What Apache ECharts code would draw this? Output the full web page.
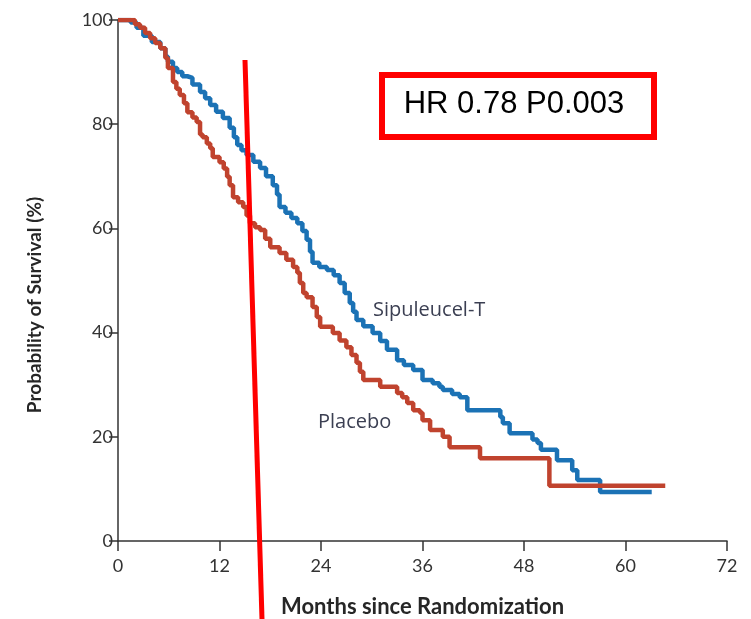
<!DOCTYPE html>
<html>
<head>
<meta charset="utf-8">
<script src="https://cdn.jsdelivr.net/npm/echarts@6/dist/echarts.min.js"></script>
<style>
  html, body { margin: 0; padding: 0; background: #fff; }
  #chart { width: 751px; height: 619px; }
</style>
</head>
<body>
<div id="chart"></div>
<script>
// Kaplan-Meier overall survival, months since randomization vs. survival (%)
const monthTicks = [0, 12, 24, 36, 48, 60, 72];
const survivalTicks = [0, 20, 40, 60, 80, 100];

// Sipuleucel-T arm: [month of event, survival % after the event]
const sipuleucelT = [
  [0, 100], [1.5, 99.5], [2.2, 98.5], [3, 97], [4, 95.8], [5, 94.6], [5.6, 93],
  [5.9, 92], [6.5, 90.8], [7, 90], [7.6, 89.2], [8.2, 88.9], [8.8, 87.6],
  [9.7, 86.2], [10.3, 85], [10.9, 83.7], [11.6, 82.4], [12.4, 81.2], [13.2, 79.3],
  [13.7, 77.5], [14.1, 76], [14.6, 75], [15.2, 74.1], [16, 72.8], [16.8, 71.6],
  [17.5, 70], [18.3, 68.3], [18.8, 66.5], [19.1, 64.1], [19.8, 63], [20.5, 62],
  [21.2, 61], [21.8, 59.5], [22.3, 57.8], [22.7, 55.5], [23, 53.4], [23.8, 52.6],
  [24.7, 52], [25.5, 51], [26.2, 49.5], [26.8, 47.6], [27.4, 45.7], [27.8, 44],
  [28.2, 42.4], [29, 41.2], [30.1, 39.9], [31, 38.4], [31.8, 36.7], [33, 34.7],
  [33.8, 33.8], [34.9, 32.8], [36, 30.9], [37.2, 30.3], [38, 29.6], [38.4, 29],
  [39.5, 28.2], [40.4, 27.6], [41.3, 25.1], [45.2, 23.8], [45.5, 22.6],
  [46.3, 20.7], [49, 19.5], [49.6, 18.8], [50, 17.5], [51.9, 15.5], [53.7, 13.6],
  [54.3, 11.7], [57, 9.4], [63.1, 9.4]
];

// Placebo arm: [month of event, survival % after the event]
const placebo = [
  [0, 100], [1.5, 100], [2, 99.2], [2.6, 98.5], [3.2, 97.5], [3.8, 96.5],
  [4.4, 95.6], [5, 94.6], [5.6, 92.7], [5.9, 90.8], [6.5, 88.1], [6.9, 86.8],
  [7.3, 85.6], [7.8, 84], [8.2, 82.3], [8.8, 81.3], [9.3, 80.4], [9.7, 78],
  [10, 77.5], [10.5, 76.3], [10.9, 75.4], [11.2, 73.7], [12, 72.7], [12.5, 71.5],
  [12.9, 69.9], [13.2, 68.3], [13.6, 66], [14.2, 65], [14.8, 64.1], [15.2, 62.5],
  [15.6, 61], [16.2, 60.2], [16.8, 59.7], [17.4, 58], [18, 56.4], [19.1, 55.3],
  [19.9, 54], [20.7, 52.6], [21.2, 51.5], [21.5, 49.5], [21.9, 47.6], [22.3, 46.8],
  [23, 44.9], [23.5, 43], [23.9, 41.1], [25.4, 39.9], [26.2, 38.5], [27, 37.2],
  [27.6, 35.7], [28.2, 34.2], [28.6, 32.5], [29, 30.9], [31, 29.6], [33, 28.4],
  [33.6, 27.6], [34.2, 26.5], [34.9, 25.1], [35.7, 24.6], [36, 23.2], [36.9, 21.3],
  [38.4, 20], [39.2, 18], [42.8, 15.9], [51, 10.6], [64.7, 10.6]
];

const seriesNames = ['Sipuleucel-T', 'Placebo'];
const xAxisTitle = 'Months since Randomization';
const yAxisTitle = 'Probability of Survival (%)';
const hrText = 'HR 0.78 P0.003';

const labelFont = "Lato, 'Open Sans', sans-serif";
const axisColor = '#333333';

const chart = echarts.init(document.getElementById('chart'), null, { renderer: 'canvas' });

chart.setOption({
  animation: false,
  backgroundColor: '#ffffff',
  grid: { left: 118, right: 24, top: 20, bottom: 78, containLabel: false, outerBoundsMode: 'none' },
  xAxis: {
    type: 'value',
    min: monthTicks[0],
    max: monthTicks[monthTicks.length - 1],
    interval: 12,
    name: xAxisTitle,
    nameLocation: 'middle',
    nameGap: 55,
    nameTextStyle: { fontFamily: labelFont, fontWeight: 'bold', fontSize: 22, color: '#262626' },
    axisLine: { lineStyle: { color: axisColor, width: 1.5 } },
    axisTick: { length: 10, lineStyle: { color: axisColor, width: 1.5 } },
    axisLabel: { fontFamily: labelFont, fontSize: 18, color: '#333', margin: 16 },
    splitLine: { show: false }
  },
  yAxis: {
    type: 'value',
    min: survivalTicks[0],
    max: survivalTicks[survivalTicks.length - 1],
    interval: 20,
    axisLine: { show: true, lineStyle: { color: axisColor, width: 1.5 } },
    axisTick: { show: true, length: 9, lineStyle: { color: axisColor, width: 1.5 } },
    axisLabel: { fontFamily: labelFont, fontSize: 18, color: '#333', margin: 5 },
    splitLine: { show: false }
  },
  series: [
    {
      name: seriesNames[0],
      type: 'line',
      step: 'end',
      data: sipuleucelT,
      showSymbol: false,
      lineStyle: { color: '#1b72b5', width: 4.5 },
      z: 3
    },
    {
      name: seriesNames[1],
      type: 'line',
      step: 'end',
      data: placebo,
      showSymbol: false,
      lineStyle: { color: '#c0432e', width: 4.5 },
      z: 4
    }
  ],
  graphic: [
    {
      type: 'text', x: 35, y: 305, rotation: Math.PI / 2,
      style: {
        text: yAxisTitle, fontFamily: labelFont, fontWeight: 'bold', fontSize: 19,
        fill: '#262626', align: 'center', verticalAlign: 'middle'
      }
    },
    {
      type: 'text', x: 373, y: 310,
      style: {
        text: seriesNames[0], fontFamily: "'Open Sans', sans-serif", fontSize: 20,
        fill: '#3b3f52', verticalAlign: 'middle'
      }
    },
    {
      type: 'text', x: 318, y: 422,
      style: {
        text: seriesNames[1], fontFamily: "'Open Sans', sans-serif", fontSize: 20,
        fill: '#3b3f52', verticalAlign: 'middle'
      }
    },
    {
      type: 'rect',
      shape: { x: 382, y: 75, width: 272, height: 62 },
      style: { fill: '#ffffff', stroke: '#ff0000', lineWidth: 6 },
      z: 10
    },
    {
      type: 'text', x: 514, y: 104,
      style: {
        text: hrText, fontFamily: "'Liberation Sans', Arial, sans-serif", fontSize: 31,
        fill: '#000', align: 'center', verticalAlign: 'middle'
      },
      z: 11
    },
    {
      type: 'line',
      shape: { x1: 245, y1: 60, x2: 262, y2: 619 },
      style: { stroke: '#ff0000', lineWidth: 5 },
      z: 12
    }
  ]
});
</script>
</body>
</html>
